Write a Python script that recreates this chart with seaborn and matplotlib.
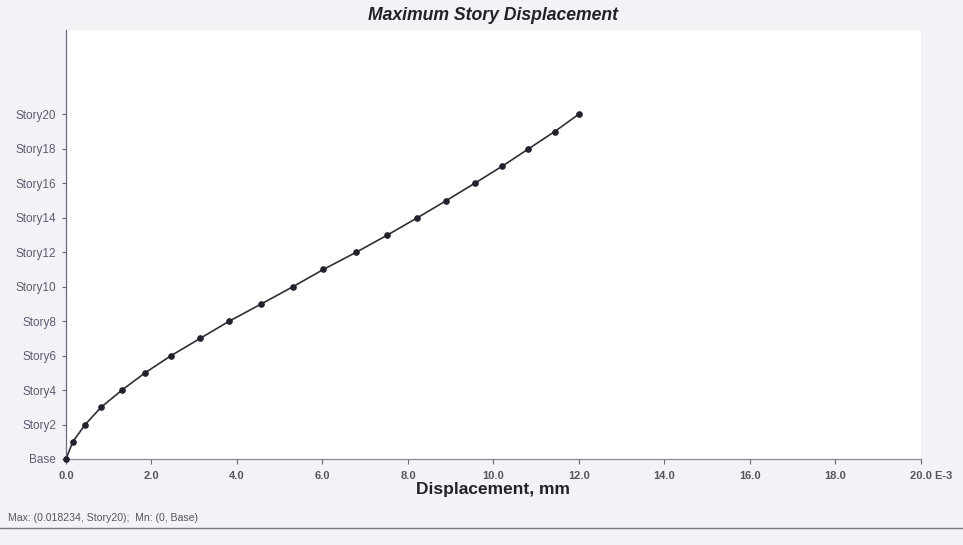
import matplotlib
matplotlib.use("Agg")
import matplotlib.pyplot as plt
import matplotlib.transforms as mtransforms
import seaborn as sns
import pandas as pd

# Story levels and the maximum displacement at each (units of 1E-3 mm)
stories = ["Base"] + [f"Story{i}" for i in range(1, 21)]
levels = list(range(0, 21))
displacement = [0.00, 0.16, 0.45, 0.82, 1.31, 1.85, 2.46, 3.14, 3.82, 4.57,
                5.31, 6.02, 6.79, 7.52, 8.22, 8.90, 9.56, 10.21, 10.82, 11.43, 11.99]

# Axis ticks and labels
x_ticks = [0, 2, 4, 6, 8, 10, 12, 14, 16, 18, 20]
x_tick_labels = ["0.0", "2.0", "4.0", "6.0", "8.0", "10.0", "12.0", "14.0", "16.0", "18.0", "20.0 E-3"]
y_ticks = list(range(0, 21, 2))
y_tick_labels = ["Base"] + [f"Story{i}" for i in range(2, 21, 2)]

df = pd.DataFrame({"story": stories, "level": levels, "disp": displacement})

sns.set_theme(style="white")
plt.rcParams["font.family"] = ["Liberation Sans", "DejaVu Sans"]

fig = plt.figure(figsize=(9.63, 5.45), dpi=100, facecolor="#f3f2f6")
ax = fig.add_axes([0.0685, 0.1578, 0.8878, 0.7872])
ax.set_facecolor("white")

sns.lineplot(data=df, x="disp", y="level", sort=False, estimator=None,
             color="#2e2e36", linewidth=1.2, marker="o", markersize=4,
             markerfacecolor="#22222e", markeredgecolor="#22222e", ax=ax)
# Keep the base marker visible at the axes corner
for line in ax.get_lines():
    line.set_clip_on(False)
    line.set_zorder(5)

ax.set_xlim(0, 20)
ax.set_ylim(0, 24.9)
ax.set_xticks(x_ticks)
ax.set_xticklabels(x_tick_labels)
ax.set_yticks(y_ticks)
ax.set_yticklabels(y_tick_labels)
ax.tick_params(axis="x", direction="out", length=3.5, width=0.8, pad=5,
               labelsize=8, labelcolor="#55555f", color="#666670", bottom=True)
ax.tick_params(axis="y", direction="out", length=3, width=0.8, pad=4,
               labelsize=8.5, labelcolor="#5c5c70", color="#666670", left=True)
for lab in ax.get_xticklabels():
    lab.set_fontweight("bold")

# Shift the last x tick label so its number sits under the tick
last = ax.get_xticklabels()[-1]
last.set_transform(last.get_transform() +
                   mtransforms.ScaledTranslation(10 / 100, 0, fig.dpi_scale_trans))

for side in ["top", "right"]:
    ax.spines[side].set_visible(False)
ax.spines["left"].set_color("#6a6a84")
ax.spines["left"].set_linewidth(0.9)
ax.spines["bottom"].set_color("#8a8a94")
ax.spines["bottom"].set_linewidth(0.9)

ax.set_xlabel("")
ax.set_ylabel("")

fig.text(0.512, 0.972, "Maximum Story Displacement", ha="center", va="center",
         fontsize=12.7, fontweight="bold", fontstyle="italic", color="#222228")
fig.text(0.512, 0.102, "Displacement, mm", ha="center", va="center",
         fontsize=12.5, fontweight="bold", color="#222228")
fig.text(0.008, 0.049, "Max: (0.018234, Story20);  Mn: (0, Base)", ha="left",
         va="center", fontsize=7.6, color="#55555f")
fig.add_artist(plt.Line2D([0.0, 1.0], [0.031, 0.031], transform=fig.transFigure,
                          color="#777780", linewidth=1.0))

fig.savefig("out.png", dpi=100, facecolor=fig.get_facecolor())
